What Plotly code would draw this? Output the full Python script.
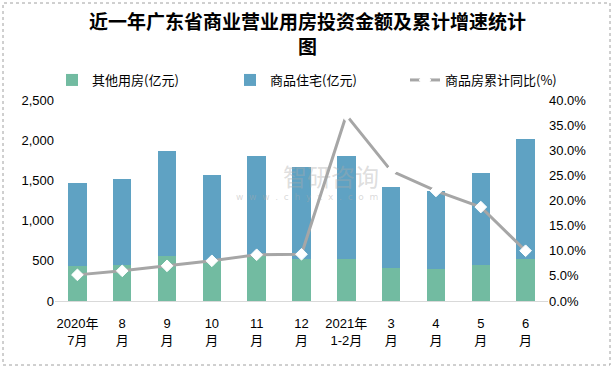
import plotly.graph_objects as go

categories = ["2020年<br>7月", "8<br>月", "9<br>月", "10<br>月", "11<br>月", "12<br>月",
              "2021年<br>1-2月", "3<br>月", "4<br>月", "5<br>月", "6<br>月"]
other_use = [435, 448, 560, 510, 560, 522, 522, 410, 398, 448, 522]
total_inv = [1468, 1517, 1866, 1567, 1804, 1671, 1804, 1418, 1368, 1592, 2015]
residential = [t - o for t, o in zip(total_inv, other_use)]
growth_pct = [5.2, 6.0, 7.0, 8.0, 9.2, 9.3, 37.0, 25.9, 21.9, 18.7, 10.0]

left_ticks = [0, 500, 1000, 1500, 2000, 2500]
left_labels = ["0", "500", "1,000", "1,500", "2,000", "2,500"]
right_ticks = [0, 5, 10, 15, 20, 25, 30, 35, 40]
right_labels = ["0.0%", "5.0%", "10.0%", "15.0%", "20.0%", "25.0%", "30.0%", "35.0%", "40.0%"]

FONT = "Noto Sans CJK SC"
MIXED = "Liberation Sans, Noto Sans CJK SC"
GREEN = "#72BBA1"
BLUE = "#5FA2C3"
GRAY = "#A6A6A6"

fig = go.Figure()
fig.add_trace(go.Bar(x=categories, y=other_use, name="其他用房(亿元)", legend="legend",
                     marker=dict(color=GREEN, line=dict(width=0))))
fig.add_trace(go.Bar(x=categories, y=residential, name="商品住宅(亿元)", legend="legend2",
                     marker=dict(color=BLUE, line=dict(width=0))))
fig.add_trace(go.Scatter(x=categories, y=growth_pct, name="商品房累计同比(%)", yaxis="y2",
                         legend="legend3", mode="lines+markers",
                         line=dict(color=GRAY, width=3),
                         marker=dict(symbol="diamond", size=9, color="white",
                                     line=dict(color="white", width=1))))

leg_common = dict(orientation="h", xref="container", yref="container", xanchor="left",
                  yanchor="middle", y=1 - 80 / 368, bgcolor="rgba(0,0,0,0)",
                  font=dict(family=FONT, size=13, color="#000000"), itemwidth=30)

fig.update_layout(
    width=615, height=368,
    barmode="stack", bargap=0.59,
    paper_bgcolor="white", plot_bgcolor="white",
    margin=dict(l=55, r=67, t=100, b=67, autoexpand=False),
    font=dict(family=FONT, size=12, color="#000000"),
    title=dict(text="<b>近一年广东省商业营业用房投资金额及累计增速统计<br>图</b>",
               x=0.5, xanchor="center", xref="container", y=0.92, yanchor="top",
               yref="container",
               font=dict(family=FONT, size=19, color="#000000")),
    legend=dict(leg_common, x=52 / 615),
    legend2=dict(leg_common, x=230 / 615),
    legend3=dict(leg_common, x=405 / 615),
    showlegend=True,
    xaxis=dict(type="category", range=[-0.5, len(categories) - 0.5], showgrid=False,
               showline=True, linecolor="#D9D9D9",
               linewidth=1, ticks="", automargin=False, ticklabelstandoff=10,
               tickfont=dict(family=MIXED, size=13, color="#000000"), tickangle=0),
    yaxis=dict(range=[0, 2500], tickvals=left_ticks, ticktext=left_labels, showgrid=False,
               zeroline=False, showline=False, ticks="", automargin=False,
               tickfont=dict(family="Liberation Sans", size=13, color="#000000")),
    yaxis2=dict(range=[0, 40], tickvals=right_ticks, ticktext=right_labels,
                overlaying="y", side="right", showgrid=False, zeroline=False,
                showline=False, ticks="", automargin=False,
                tickfont=dict(family="Liberation Sans", size=13, color="#000000")),
    shapes=[dict(type="rect", xref="paper", yref="paper",
                 x0=-52 / 493, x1=1 + 62 / 493, y0=-64 / 201, y1=1 + 97 / 201,
                 line=dict(color="#A0A0A0", width=1, dash="dot"))],
    annotations=[
        dict(text="智研咨询", x=(331 - 55) / 493, y=(301 - 175) / 201, xref="paper",
             yref="paper", showarrow=False,
             font=dict(family=FONT, size=24, color="rgba(170,170,170,0.4)")),
        dict(text="w  w  w  .  c  h  y  x  x  .  c  o  m", x=(307 - 55) / 493,
             y=(301 - 197) / 201, xref="paper", yref="paper", showarrow=False,
             font=dict(family="DejaVu Sans", size=9, color="rgba(170,170,170,0.45)")),
    ],
)

fig.write_html("out.html", config={"displayModeBar": False},
               post_script="document.body.style.margin='0';")
